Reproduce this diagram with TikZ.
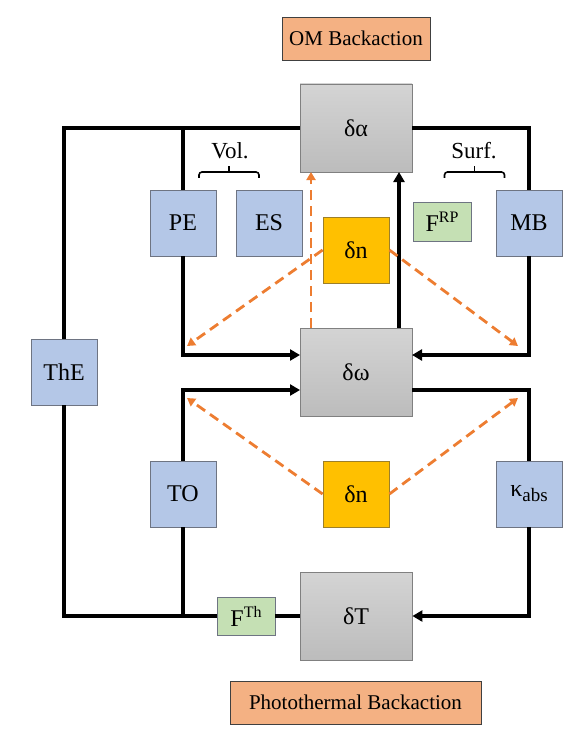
\documentclass[tikz,border=0pt]{standalone}
\usepackage{fontspec}
\setmainfont{Liberation Serif}
\usetikzlibrary{arrows.meta}
\definecolor{bluefill}{HTML}{B4C7E7}
\definecolor{greenfill}{HTML}{C5E0B4}
\definecolor{peach}{HTML}{F4B183}
\definecolor{gold}{HTML}{FFC000}
\definecolor{golddraw}{HTML}{9C7F2A}
\definecolor{boxline}{HTML}{6E7482}
\definecolor{grtop}{HTML}{D4D4D4}
\definecolor{grbot}{HTML}{BCBCBC}
\definecolor{dashorange}{HTML}{ED7D31}
\begin{document}
\begin{tikzpicture}[x=1pt,y=-1pt,
  lbl/.style={font=\fontsize{24}{28}\selectfont},
  bluebox/.style={rectangle,draw=boxline,line width=0.8pt,fill=bluefill,minimum width=66pt,minimum height=66pt,inner sep=0pt,lbl},
  greenbox/.style={rectangle,draw=boxline,line width=0.8pt,fill=greenfill,minimum width=58pt,minimum height=38pt,inner sep=0pt,lbl},
  goldbox/.style={rectangle,draw=golddraw,line width=0.8pt,fill=gold,minimum width=66pt,minimum height=66pt,inner sep=0pt,lbl},
  graybox/.style={rectangle,draw=gray,line width=0.8pt,top color=grtop,bottom color=grbot,minimum width=112pt,minimum height=88pt,inner sep=0pt,lbl},
  peachbox/.style={rectangle,draw=black!75,line width=0.8pt,fill=peach,minimum height=43pt,inner sep=0pt,font=\fontsize{21}{25}\selectfont},
  wire/.style={line width=3.3pt,black},
  arr/.style={wire,-{Triangle[length=10pt,width=11pt]}},
  darr/.style={line width=2.8pt,dashorange,dash pattern=on 10pt off 6pt,-{Triangle[length=8pt,width=9pt]}},
  bracestyle/.style={line width=1.6pt,rounded corners=3pt}
]
\useasboundingbox (0,0) rectangle (581,746);

% nodes
\node[peachbox,minimum width=148pt] (om) at (356,38.5) {OM Backaction};
\node[peachbox,minimum width=251pt] (pt) at (355.5,702.5) {Photothermal Backaction};

\node[graybox] (da) at (356,128) {δα};
\node[graybox] (dw) at (356,372) {δω};
\node[graybox] (dT) at (356,616) {δT};

\node[bluebox] (PE) at (183,223) {PE};
\node[bluebox] (ES) at (269,223) {ES};
\node[bluebox] (MB) at (529,223) {MB};
\node[greenbox,minimum height=39pt] (FRP) at (442,221.5) {F\raisebox{9pt}{\fontsize{16}{17}\selectfont RP}};
\node[goldbox] (dn1) at (356,250) {δn};

\node[bluebox] (ThE) at (64,372) {ThE};

\node[bluebox] (TO) at (183,494) {TO};
\node[goldbox] (dn2) at (356,494) {δn};
\node[bluebox] (kabs) at (529,494) {κ\raisebox{-5pt}{\fontsize{19}{20}\selectfont abs}};

\node[greenbox] (FTh) at (246,616) {F\raisebox{9pt}{\fontsize{16}{17}\selectfont Th}};

\node[font=\fontsize{23}{27}\selectfont] (vol) at (230,151) {Vol.};
\node[font=\fontsize{23}{27}\selectfont] (surf) at (474,151) {Surf.};

% braces
\coordinate (vb1) at (199,178);
\coordinate (vb2) at (259,178);
\coordinate (vbm) at (229,172);
\coordinate (vbt) at (229,166);
\coordinate (sb1) at (444.5,178);
\coordinate (sb2) at (504.5,178);
\coordinate (sbm) at (474.5,172);
\coordinate (sbt) at (474.5,166);
\draw[bracestyle] (vb1) |- (vbm) -| (vb2);
\draw[line width=1.6pt] (vbm) -- (vbt);
\draw[bracestyle] (sb1) |- (sbm) -| (sb2);
\draw[line width=1.6pt] (sbm) -- (sbt);

% coordinates
\coordinate (dwL1) at (300,355);
\coordinate (dwR1) at (412,355);
\coordinate (dwL2) at (300,390);
\coordinate (dwR2) at (412,390);
\coordinate (upB1) at (399,328);
\coordinate (upB2) at (399,172);
\coordinate (upO1) at (311,328);
\coordinate (upO2) at (311,172);
\coordinate (tUL) at (187,346);
\coordinate (tUR) at (518,346);
\coordinate (tLL) at (187,398);
\coordinate (tLR) at (518,398);
\coordinate (TOj) at (183,616);

% black wires
\draw[wire] (ThE.north) |- (da.west);
\draw[wire] (PE.north) -- (PE.north |- da.west);
\draw[wire] (da.east) -| (MB.north);
\draw[arr] (PE.south) |- (dwL1);
\draw[arr] (MB.south) |- (dwR1);
\draw[arr] (TO.north) |- (dwL2);
\draw[wire] (dwR2) -| (kabs.north);
\draw[arr] (kabs.south) |- (dT.east);
\draw[wire] (dT.west) -- (FTh.east);
\draw[wire] (FTh.west) -| (ThE.south);
\draw[wire] (TO.south) -- (TOj);
\draw[arr] (upB1) -- (upB2);

% orange dashed
\draw[darr] (upO1) -- (upO2);
\draw[darr] (dn1.west) -- (tUL);
\draw[darr] (dn1.east) -- (tUR);
\draw[darr] (dn2.west) -- (tLL);
\draw[darr] (dn2.east) -- (tLR);
\end{tikzpicture}
\end{document}
